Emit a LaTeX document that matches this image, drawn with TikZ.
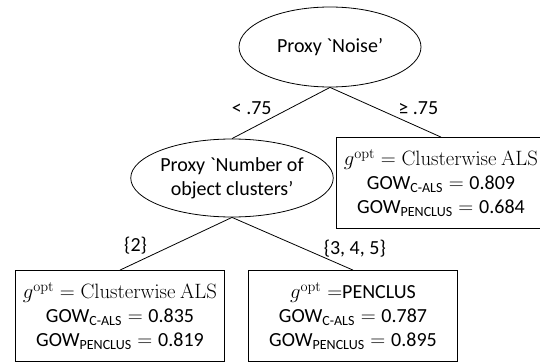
\documentclass[tikz,border=0pt]{standalone}
\usepackage{amsmath}
\usepackage[no-math]{fontspec}
\setmainfont{Carlito}
\usetikzlibrary{positioning,shapes.geometric}

\begin{document}
\begin{tikzpicture}[
		x=1pt, y=-1pt,
		every node/.style={font=\fontsize{20}{24}\selectfont},
		split/.style={
			ellipse,
			draw,
			line width=0.8pt,
			inner sep=0pt,
			align=center
		},
		leaf/.style={
			draw,
			line width=0.8pt,
			minimum width=209pt,
			minimum height=91pt,
			inner sep=0pt,
			align=center
		},
		branch/.style={line width=0.8pt},
		cut/.style={inner sep=1pt}
	]
		\useasboundingbox (0,0) rectangle (540,363);

		\node[split, minimum width=182pt, minimum height=80pt] (noise) at (330,47)
			{Proxy \textasciigrave Noise’};
		\node[split, minimum width=181pt, minimum height=78pt] (clusters) at (232,178)
			{Proxy \textasciigrave Number of\\object clusters’};

		\node[leaf] (als-noise) at (441,183)
			{$g^{\mathrm{opt}} = \mathrm{Clusterwise\ ALS}$\\
			 GOW$_{\text{C-ALS}} = \text{0.809}$\\
			 GOW$_{\text{PENCLUS}} = \text{0.684}$};
		\node[leaf] (als-two) at (120,316)
			{$g^{\mathrm{opt}} = \mathrm{Clusterwise\ ALS}$\\
			 GOW$_{\text{C-ALS}} = \text{0.835}$\\
			 GOW$_{\text{PENCLUS}} = \text{0.819}$};
		\node[leaf] (penclus) at (353,316)
			{$g^{\mathrm{opt}} = $PENCLUS\\
			 GOW$_{\text{C-ALS}} = \text{0.787}$\\
			 GOW$_{\text{PENCLUS}} = \text{0.895}$};

		\draw[branch] (noise.south) -- (clusters.north)
			node[cut, pos=0.5, anchor=south east, xshift=-8pt, yshift=-3pt] {< .75};
		\draw[branch] (noise.south) -- (als-noise.north)
			node[cut, pos=0.55, anchor=south west, xshift=6pt, yshift=-1pt] {≥ .75};
		\draw[branch] (clusters.south) -- (als-two.north)
			node[cut, pos=0.72, anchor=south east, xshift=-3pt] {\{2\}};
		\draw[branch] (clusters.south) -- (penclus.north)
			node[cut, pos=0.78, anchor=south west, xshift=-4pt] {\{3, 4, 5\}};
	\end{tikzpicture}
\end{document}
